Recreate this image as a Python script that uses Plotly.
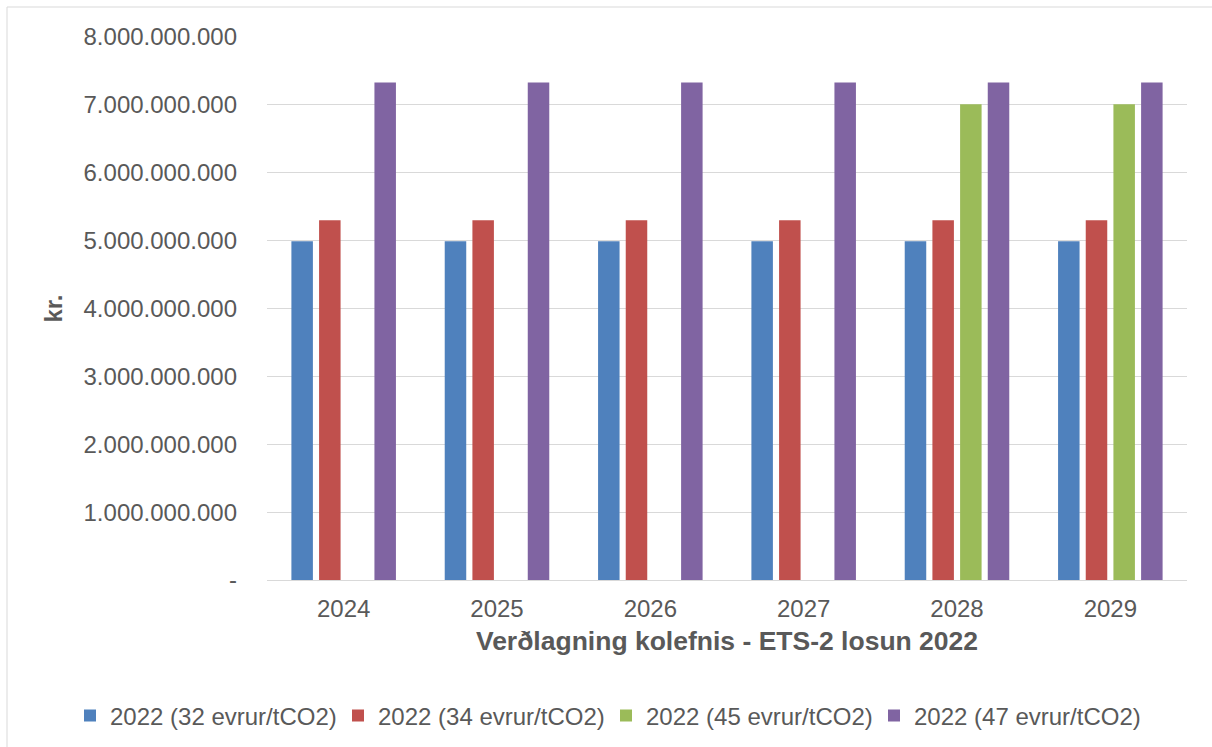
import plotly.graph_objects as go

years = ["2024", "2025", "2026", "2027", "2028", "2029"]
series_names = ["2022 (32 evrur/tCO2)", "2022 (34 evrur/tCO2)",
                "2022 (45 evrur/tCO2)", "2022 (47 evrur/tCO2)"]
s32 = [4.99e9, 4.99e9, 4.99e9, 4.99e9, 4.99e9, 4.99e9]
s34 = [5.30e9, 5.30e9, 5.30e9, 5.30e9, 5.30e9, 5.30e9]
s45 = [None, None, None, None, 7.01e9, 7.01e9]
s47 = [7.33e9, 7.33e9, 7.33e9, 7.33e9, 7.33e9, 7.33e9]
colors = ["#4F81BD", "#C0504D", "#9BBB59", "#8064A2"]

tick_vals = [0, 1e9, 2e9, 3e9, 4e9, 5e9, 6e9, 7e9, 8e9]
tick_text = ["-", "1.000.000.000", "2.000.000.000", "3.000.000.000",
             "4.000.000.000", "5.000.000.000", "6.000.000.000",
             "7.000.000.000", "8.000.000.000"]

FONT = "Liberation Sans, Arial, sans-serif"
GREY = "#595959"
FS = 24

fig = go.Figure()
for name, vals, col in zip(series_names, [s32, s34, s45, s47], colors):
    fig.add_trace(go.Bar(x=years, y=vals, name=name, marker_color=col,
                         marker_line_width=0))

W, H = 1212, 747
ml, mr, mt, mb = 267, 25, 37, 167
pw, ph = W - ml - mr, H - mt - mb

def px2x(p):
    return (p - ml) / pw

def py2y(p):
    return (H - mb - p) / ph

fig.update_layout(
    width=W, height=H,
    margin=dict(l=ml, r=mr, t=mt, b=mb, autoexpand=False),
    paper_bgcolor="white", plot_bgcolor="white",
    barmode="group", bargap=0.278, bargroupgap=0.223,
    font=dict(family=FONT, size=FS, color=GREY),
    showlegend=True,
    legend=dict(orientation="h", x=px2x(70), xanchor="left",
                y=py2y(716), yanchor="middle",
                font=dict(size=FS, color=GREY),
                entrywidth=223, entrywidthmode="pixels",
                traceorder="normal"),
    xaxis=dict(showgrid=False, showline=True, linecolor="#D9D9D9", linewidth=1,
               ticks="", ticklabelstandoff=7,
               tickfont=dict(size=FS, color=GREY),
               title=dict(text="<b>Verðlagning kolefnis - ETS-2 losun 2022</b>",
                          font=dict(size=26.5, color=GREY), standoff=10)),
    yaxis=dict(range=[0, 8e9], tickvals=tick_vals, ticktext=tick_text,
               showgrid=True, gridcolor="#D9D9D9", gridwidth=1,
               zeroline=False, showline=False, ticks="",
               ticklabelstandoff=29,
               tickfont=dict(size=FS, color=GREY),
               title=dict(text="<b>kr.</b>", font=dict(size=FS, color=GREY),
                          standoff=14)),
    shapes=[dict(type="rect", xref="paper", yref="paper",
                 x0=px2x(7), x1=px2x(1240), y0=py2y(780), y1=py2y(7),
                 line=dict(color="#D9D9D9", width=1), layer="below")],
)

fig.write_html("out.html")
